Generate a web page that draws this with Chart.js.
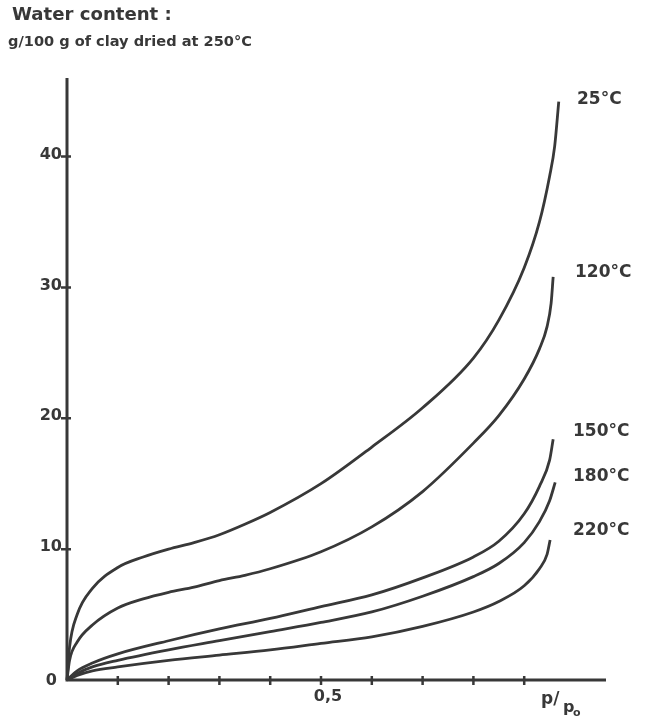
<!DOCTYPE html>
<html><head><meta charset="utf-8">
<script src="https://cdn.jsdelivr.net/npm/chart.js@4"></script>
<style>html,body{margin:0;padding:0;background:#fff}#c{display:block}</style>
</head><body>
<canvas id="c" width="645" height="717"></canvas>
<script>
// ---- data ----
const seriesLabels = ['25°C', '120°C', '150°C', '180°C', '220°C'];
const p25  = [0, 0.005, 0.02, 0.05, 0.1, 0.15, 0.2, 0.25, 0.3, 0.35, 0.4, 0.5, 0.6, 0.7, 0.8, 0.85, 0.9, 0.93, 0.95, 0.96, 0.968];
const w25  = [0, 2.5, 5.0, 7.0, 8.6, 9.4, 10.0, 10.5, 11.1, 11.9, 12.8, 15.0, 17.8, 20.8, 24.6, 27.5, 31.5, 35.0, 38.5, 40.8, 44.2];
const p120 = [0, 0.005, 0.02, 0.05, 0.1, 0.15, 0.2, 0.25, 0.3, 0.35, 0.4, 0.5, 0.6, 0.7, 0.8, 0.85, 0.9, 0.93, 0.945, 0.953, 0.957];
const w120 = [0, 1.5, 2.9, 4.2, 5.5, 6.2, 6.7, 7.1, 7.6, 8.0, 8.5, 9.8, 11.7, 14.4, 18.1, 20.2, 23.0, 25.3, 27.0, 28.8, 30.8];
const p150 = [0, 0.02, 0.05, 0.1, 0.2, 0.3, 0.4, 0.5, 0.6, 0.7, 0.8, 0.85, 0.9, 0.93, 0.95, 0.957];
const w150 = [0, 0.7, 1.3, 2.0, 3.0, 3.9, 4.7, 5.6, 6.5, 7.8, 9.4, 10.6, 12.7, 14.8, 16.8, 18.4];
const p180 = [0, 0.02, 0.05, 0.1, 0.2, 0.3, 0.4, 0.5, 0.6, 0.7, 0.8, 0.85, 0.9, 0.93, 0.95, 0.961];
const w180 = [0, 0.5, 1.0, 1.5, 2.3, 3.0, 3.7, 4.4, 5.2, 6.4, 7.9, 8.9, 10.5, 12.1, 13.7, 15.1];
const p220 = [0, 0.02, 0.05, 0.1, 0.2, 0.3, 0.4, 0.5, 0.6, 0.7, 0.8, 0.85, 0.9, 0.93, 0.945, 0.951];
const w220 = [0, 0.35, 0.7, 1.0, 1.5, 1.9, 2.3, 2.8, 3.3, 4.1, 5.2, 6.0, 7.2, 8.5, 9.6, 10.7];
const xTickValues = [0.1, 0.2, 0.3, 0.4, 0.5, 0.6, 0.7, 0.8, 0.9];
const xTickLabels = ['', '', '', '', '0,5', '', '', '', ''];
const yTickValues = [10, 20, 30, 40];
const yTickLabels = ['10', '20', '30', '40'];
const titleLines = ['Water content :', 'g/100 g of clay dried at 250°C'];
const xAxisMax = 1.061, yAxisMax = 46;

const INK = '#383838';
const FONT = '"DejaVu Sans", "Liberation Sans", sans-serif';

const pairs = [[p25, w25], [p120, w120], [p150, w150], [p180, w180], [p220, w220]];
const datasets = pairs.map((pw, i) => ({
  label: seriesLabels[i],
  data: pw[0].map((x, j) => ({ x: x, y: pw[1][j] })),
  borderColor: INK,
  borderWidth: 2.8,
  pointRadius: 0,
  fill: false,
  cubicInterpolationMode: 'monotone',
  clip: false
}));

// label anchors (layout only)
const seriesLabelPos = [
  { x: 577, y: 100 }, { x: 575, y: 273 }, { x: 573, y: 432 }, { x: 573, y: 477 }, { x: 573, y: 531 }
];

function fitFont(ctx, text, targetW) {
  ctx.font = 'bold 16px ' + FONT;
  const w = ctx.measureText(text).width;
  const size = 16 * targetW / w;
  ctx.font = 'bold ' + size.toFixed(2) + 'px ' + FONT;
  return size;
}

const decor = {
  id: 'decor',
  afterDraw(chart) {
    const ctx = chart.ctx;
    const xs = chart.scales.x, ys = chart.scales.y;
    const x0 = xs.getPixelForValue(0), y0 = ys.getPixelForValue(0);
    const xEnd = xs.getPixelForValue(xAxisMax), yTop = ys.getPixelForValue(yAxisMax);
    ctx.save();
    ctx.strokeStyle = INK; ctx.fillStyle = INK;
    ctx.lineCap = 'butt';
    // axes
    ctx.lineWidth = 3;
    ctx.beginPath();
    ctx.moveTo(x0, yTop); ctx.lineTo(x0, y0 + 1.5);
    ctx.moveTo(x0 - 1.5, y0); ctx.lineTo(xEnd, y0);
    ctx.stroke();
    // tick marks
    ctx.lineWidth = 2.5;
    ctx.beginPath();
    xTickValues.forEach(v => {
      const px = xs.getPixelForValue(v);
      ctx.moveTo(px, y0 - 4); ctx.lineTo(px, y0 + 5);
    });
    yTickValues.forEach(v => {
      const py = ys.getPixelForValue(v);
      ctx.moveTo(x0 - 6, py); ctx.lineTo(x0 + 4, py);
    });
    ctx.stroke();
    // tick labels
    ctx.font = 'bold 16px ' + FONT;
    ctx.textAlign = 'right'; ctx.textBaseline = 'middle';
    yTickValues.forEach((v, i) => {
      ctx.fillText(yTickLabels[i], x0 - 5, ys.getPixelForValue(v) - 2);
    });
    ctx.fillText('0', x0 - 10, y0 + 1);
    ctx.textAlign = 'center';
    ctx.font = 'bold 16px ' + FONT;
    xTickValues.forEach((v, i) => {
      if (xTickLabels[i]) ctx.fillText(xTickLabels[i], xs.getPixelForValue(v) + 7, y0 + 17);
    });
    // axis title p/p0
    ctx.textAlign = 'left'; ctx.textBaseline = 'alphabetic';
    ctx.font = 'bold 17px ' + FONT;
    ctx.fillText('p/', 541, 704);
    ctx.font = 'bold 16px ' + FONT;
    ctx.fillText('p', 563, 712);
    ctx.font = 'bold 11px ' + FONT;
    ctx.fillText('o', 573, 716);
    // title
    fitFont(ctx, titleLines[0], 160);
    ctx.fillText(titleLines[0], 12, 20);
    fitFont(ctx, titleLines[1], 244);
    ctx.fillText(titleLines[1], 8, 46);
    // series labels
    ctx.font = 'bold 17px ' + FONT;
    ctx.textBaseline = 'middle';
    seriesLabels.forEach((t, i) => {
      ctx.fillText(t, seriesLabelPos[i].x, seriesLabelPos[i].y);
    });
    ctx.restore();
  }
};

new Chart(document.getElementById('c'), {
  type: 'line',
  data: { datasets: datasets },
  options: {
    responsive: false,
    animation: false,
    devicePixelRatio: 1,
    layout: { padding: { left: 67, right: 645 - 606, top: 78, bottom: 717 - 680 } },
    plugins: { legend: { display: false }, tooltip: { enabled: false }, title: { display: false } },
    scales: {
      x: { type: 'linear', min: 0, max: xAxisMax, display: false },
      y: { type: 'linear', min: 0, max: yAxisMax, display: false }
    }
  },
  plugins: [decor]
});
</script>
</body></html>
